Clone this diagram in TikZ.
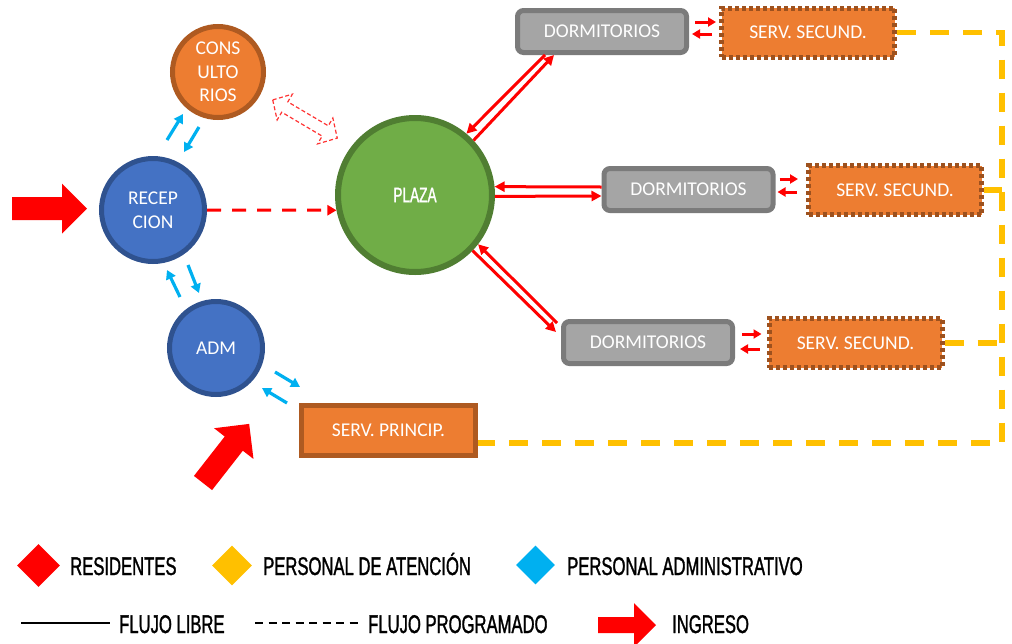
\documentclass[tikz,border=0pt]{standalone}
\usepackage{fontspec}
\setmainfont{Carlito}
\newfontfamily\condfont[FakeStretch=0.65,FakeBold=1.2]{Liberation Sans}
\usetikzlibrary{arrows.meta,shapes.geometric,calc}
\definecolor{orfill}{HTML}{ED7D31}
\definecolor{ordraw}{HTML}{AE5A21}
\definecolor{blfill}{HTML}{4472C4}
\definecolor{bldraw}{HTML}{2F528F}
\definecolor{grfill}{HTML}{70AD47}
\definecolor{grdraw}{HTML}{507E32}
\definecolor{gyfill}{HTML}{A5A5A5}
\definecolor{gydraw}{HTML}{7B7B7B}
\definecolor{yel}{HTML}{FFC000}
\definecolor{cyanb}{HTML}{00B0F0}
\newcommand\nfnt{\fontsize{19.5}{23.5}\selectfont}
\newcommand\lgfnt{\condfont\fontsize{25.6}{28}\selectfont}
\tikzset{
  circ/.style={circle, inner sep=0pt, line width=5pt, align=center, text=white, font=\nfnt},
  dormbox/.style={rectangle, rounded corners=6pt, fill=gyfill, draw=gydraw, line width=5pt,
    minimum width=169pt, minimum height=42pt, inner sep=0pt, text=white, font=\nfnt},
  ssbox/.style={rectangle, fill=orfill, draw=ordraw!90!black, line width=5pt, dash pattern=on 4pt off 3pt,
    minimum width=173pt, minimum height=49pt, inner sep=0pt, text=white, font=\nfnt},
  spbox/.style={rectangle, fill=orfill, draw=ordraw, line width=5pt,
    minimum width=174pt, minimum height=50pt, inner sep=0pt, text=white, font=\nfnt},
  redarr/.style={draw=red, line width=3pt, -{Triangle[length=10pt,width=10pt]}},
  sredarr/.style={draw=red, line width=3pt, -{Triangle[length=8pt,width=9pt]}},
  bluearr/.style={draw=cyanb, line width=3.2pt, -{Triangle[length=9pt,width=10pt]}},
  yline/.style={draw=yel, line width=5.5pt, dash pattern=on 19pt off 14pt},
  legtext/.style={anchor=base west, inner sep=0pt, font=\lgfnt, text=black},
  legdia/.style={diamond, inner sep=0pt, aspect=1},
}
\begin{document}
\begin{tikzpicture}[x=1pt,y=-1pt]
\useasboundingbox (0,0) rectangle (1012,643);

% circles
\node[circ, fill=orfill, draw=ordraw, minimum size=91pt] (con) at (218,72) {CONS\\ULTO\\RIOS};
\node[circ, fill=blfill, draw=bldraw, minimum size=103pt] (rec) at (153,210) {RECEP\\CION};
\node[circ, fill=blfill, draw=bldraw, minimum size=93pt] (adm) at (216,348) {ADM};
\node[circ, fill=grfill, draw=grdraw, line width=6pt, minimum size=154pt, font=\condfont\fontsize{21}{24}\selectfont] (plaza) at (415,195) {PLAZA};

% boxes
\node[dormbox] (d1) at (602,31.5) {DORMITORIOS};
\node[dormbox] (d2) at (688.5,189.5) {DORMITORIOS};
\node[dormbox] (d3) at (648,342.5) {DORMITORIOS};
\node[ssbox] (ss1) at (808,32.5) {SERV. SECUND.};
\node[ssbox] (ss2) at (895,190) {SERV. SECUND.};
\node[ssbox] (ss3) at (855.5,343) {SERV. SECUND.};
\node[spbox] (sp) at (388.5,430.5) {SERV. PRINCIP.};

% yellow dashed
\coordinate (ytop) at (1002,32.5);
\coordinate (ybot) at (1002,443);
\draw[yline] (ss1.east) -- (ytop) -- (ybot) -- (ybot -| sp.east);
\draw[yline] (ss2.east) -- (ss2.east -| ytop);
\draw[yline] (ss3.east) -- (ss3.east -| ytop);

% plaza - dormitorios
\draw[redarr] ([xshift=-57pt]d1.south) -- (plaza.50);
\draw[redarr] (plaza.43) -- ([xshift=-48pt]d1.south);
\draw[redarr] ([yshift=2.5pt]d2.west) -- (plaza.6);
\draw[redarr] (plaza.-1) -- ([yshift=-6.5pt]d2.west);
\draw[redarr] ([xshift=-4pt,yshift=-4pt]d3.north west) -- (plaza.-38);
\draw[redarr] (plaza.-44) -- ([xshift=-5pt,yshift=-13pt]d3.north west);

% dormitorios - serv secund
\draw[sredarr, shorten <=6pt, shorten >=3pt] ([yshift=9.5pt]d1.east) -- ([yshift=10.5pt]ss1.west);
\draw[sredarr, shorten <=7pt, shorten >=3pt] ([yshift=-1.5pt]ss1.west) -- ([yshift=-2.5pt]d1.east);
\draw[sredarr, shorten <=4pt, shorten >=8pt] ([yshift=10.5pt]d2.east) -- ([yshift=11pt]ss2.west);
\draw[sredarr, shorten <=9pt, shorten >=2pt] ([yshift=-2pt]ss2.west) -- ([yshift=-2.5pt]d2.east);
\draw[sredarr, shorten <=7pt, shorten >=5pt] ([yshift=8.5pt]d3.east) -- ([yshift=9pt]ss3.west);
\draw[sredarr, shorten <=7pt, shorten >=5pt] ([yshift=-6pt]ss3.west) -- ([yshift=-6.5pt]d3.east);

% reception -> plaza
\draw[draw=red, line width=3pt, dash pattern=on 14pt off 11pt, -{Triangle[length=9pt,width=10pt]}] (rec.east) -- (plaza.191);

% blue arrows
\coordinate (b1s) at (167,140); \coordinate (b1e) at (183,114);
\coordinate (b2s) at (199,127); \coordinate (b2e) at (184,152);
\coordinate (b3s) at (180,297); \coordinate (b3e) at (167,270);
\coordinate (b4s) at (188,265); \coordinate (b4e) at (199,293);
\coordinate (b5s) at (275,372); \coordinate (b5e) at (300,387);
\coordinate (b6s) at (287,403); \coordinate (b6e) at (262,388);
\draw[bluearr] (b1s) -- (b1e);
\draw[bluearr] (b2s) -- (b2e);
\draw[bluearr] (b3s) -- (b3e);
\draw[bluearr] (b4s) -- (b4e);
\draw[bluearr] (b5s) -- (b5e);
\draw[bluearr] (b6s) -- (b6e);

% hollow dashed double arrow
\begin{scope}[shift={(305,119)}, rotate=-30.6]
\draw[red!80, line width=1.2pt, dash pattern=on 4pt off 2.5pt]
  (-37.5,0) -- (-23.5,-15) -- (-23.5,-6) -- (23.5,-6) -- (23.5,-15) -- (37.5,0)
  -- (23.5,15) -- (23.5,6) -- (-23.5,6) -- (-23.5,15) -- cycle;
\end{scope}

% ingress arrows
\begin{scope}[shift={(12,208.5)}]
\fill[red] (0,-11.5) -- (50,-11.5) -- (50,-25) -- (75,0) -- (50,25) -- (50,11.5) -- (0,11.5) -- cycle;
\end{scope}
\begin{scope}[shift={(203,483)}, rotate=52]
\fill[red] (0,-11.5) -- (50,-11.5) -- (50,-25) -- (75,0) -- (50,25) -- (50,11.5) -- (0,11.5) -- cycle;
\end{scope}

% legend
\node[legdia, fill=red, minimum width=43pt, minimum height=43pt] (l1) at (38.5,565.5) {};
\node[legtext] (t1) at (70,575) {RESIDENTES};
\node[legdia, fill=yel, minimum width=40pt, minimum height=40pt] (l2) at (232,565.5) {};
\node[legtext] (t2) at (263,575) {PERSONAL DE ATENCIÓN};
\node[legdia, fill=cyanb, minimum width=39pt, minimum height=39pt] (l3) at (535.5,565) {};
\node[legtext] (t3) at (567,575) {PERSONAL ADMINISTRATIVO};

\coordinate (s1) at (21,623); \coordinate (s2) at (110,623);
\draw[line width=1.6pt] (s1) -- (s2);
\node[legtext] (t4) at (119,633) {FLUJO LIBRE};
\coordinate (q1) at (255,623); \coordinate (q2) at (358,623);
\draw[line width=1.6pt, dash pattern=on 8pt off 5.5pt] (q1) -- (q2);
\node[legtext] (t5) at (368,633) {FLUJO PROGRAMADO};
\begin{scope}[shift={(598,625)}]
\fill[red] (0,-8) -- (36,-8) -- (36,-22) -- (58,0) -- (36,22) -- (36,8) -- (0,8) -- cycle;
\end{scope}
\node[legtext] (t6) at (672,633) {INGRESO};
\end{tikzpicture}
\end{document}
